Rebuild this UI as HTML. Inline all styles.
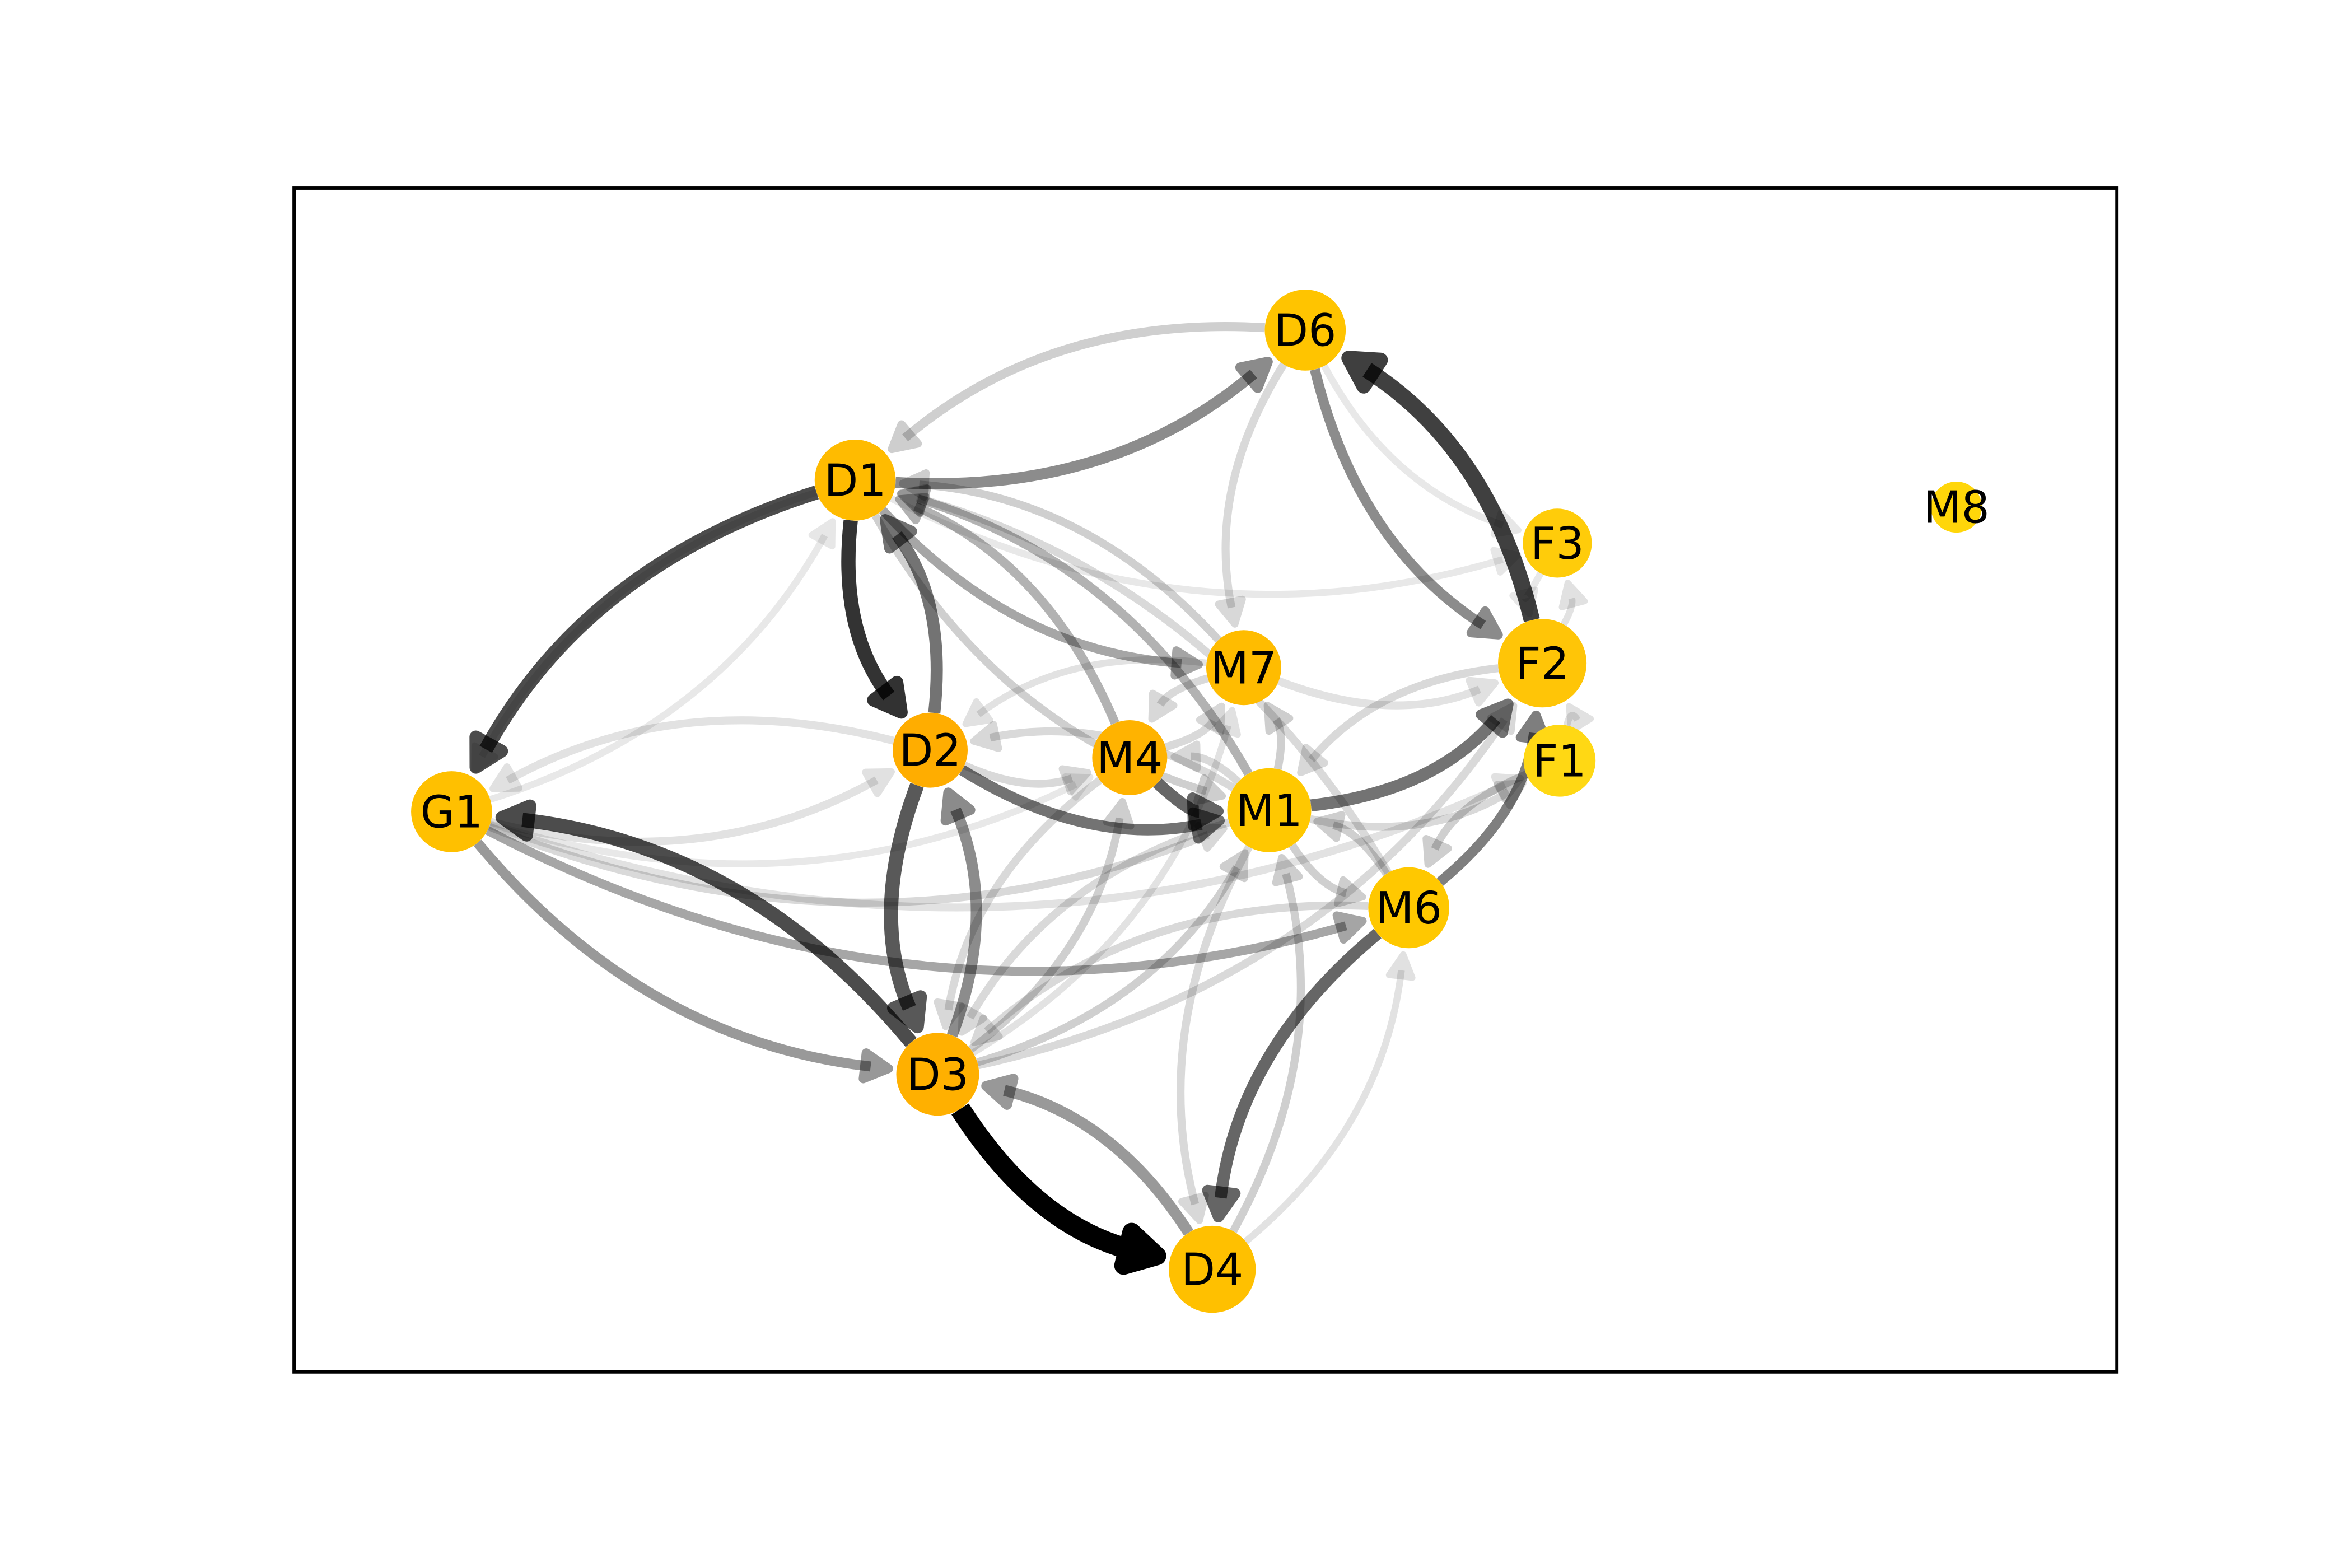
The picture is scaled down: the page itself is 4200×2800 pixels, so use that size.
<!DOCTYPE html>
<html><head><meta charset="utf-8"><style>
html,body{margin:0;padding:0;background:#fff;}
svg{display:block;}
</style></head><body>
<svg id="chart" width="4200" height="2800" viewBox="0 0 1567.7 1045.1" xmlns="http://www.w3.org/2000/svg">
<rect x="196" y="125.4" width="1215" height="789" fill="none" stroke="#000" stroke-width="2.2"/>
<g id="edges"></g>
<g id="nodes"></g>
</svg>
<script>
const nodeNames=["D6","D1","F3","M8","F2","M7","D2","M4","F1","G1","M1","M6","D3","D4"];
const nodeX=[870,570,1038,1304,1028,829,620,753,1039.5,301,846,939,625,808];
const nodeY=[220,320,362,338,442,445,500,505,507,541,540,605,716,846];
const nodeR=[27,27,23,17,29.5,25,25,25,24,27,28,27,27.6,29];
const nodeColor=["#ffc400","#ffbb00","#ffcc0a","#ffd60a","#ffc507","#ffbc00","#ffad00","#ffb300","#ffd814","#ffc000","#ffc800","#ffc800","#ffb000","#ffc000"];
const edgeFrom=["D3","F2","D1","D1","D3","D2","D3","D2","G1","D1","D6","D6","M6","D4","M1","M6","M4","D2","D1","D4","M1","G1","M7","M1","M6","F1","G1","G1","G1","M4","M1","D3","D3","D3","D1","M7","D6","F3","F2","M1","M1","M6","M7","M4","D2","G1","D1","F2","M1","D6","M6","M7","M1","D2","D3","F1","M4","M1","G1","D1","D4"];
const edgeTo=["D4","D6","G1","D2","G1","D3","D2","D1","D3","D6","D1","F2","D4","D3","F2","F2","M1","M1","M7","M1","D4","M6","D1","D1","D1","M6","F1","M1","D2","D1","M7","M1","M4","F2","G1","D2","M7","F2","F3","M6","F1","M1","M4","M7","M4","D1","M1","M1","D2","F3","D3","F2","D3","G1","M7","F2","D3","M4","M4","F3","M6"];
const edgeW=[8,6,5,5,5,5,3.5,4,3,3.5,2.5,3,4,3.5,4,3,4,3.5,2.5,2,2,2.5,2,2.5,2,2,2,2,2,2.5,2,2,2,2,1.5,1.5,2,1.5,1.5,2,2,2,2,2,2,1.5,2,2,2,1.5,2,2,2,2,1.5,1.5,2,2,1.5,1.5,1.5];
const edgeA=[1,0.75,0.7,0.8,0.7,0.65,0.45,0.55,0.4,0.45,0.25,0.45,0.6,0.4,0.55,0.5,0.6,0.55,0.35,0.25,0.2,0.35,0.25,0.3,0.2,0.25,0.15,0.2,0.15,0.3,0.25,0.25,0.25,0.2,0.12,0.15,0.2,0.12,0.15,0.25,0.2,0.25,0.2,0.2,0.2,0.12,0.25,0.2,0.2,0.12,0.2,0.15,0.2,0.15,0.15,0.15,0.2,0.2,0.12,0.12,0.15];
const NS="http://www.w3.org/2000/svg";
const idx=n=>nodeNames.indexOf(n);
const eg=document.getElementById("edges");
for(let i=0;i<edgeFrom.length;i++){
  const a=idx(edgeFrom[i]),b=idx(edgeTo[i]);
  const x1=nodeX[a],y1=nodeY[a],x2=nodeX[b],y2=nodeY[b];
  const dx=x2-x1,dy=y2-y1,rad=0.2;
  const cx=(x1+x2)/2-rad*dy,cy=(y1+y2)/2+rad*dx;
  let ux=cx-x1,uy=cy-y1,l=Math.hypot(ux,uy);
  const sx=x1+ux/l*nodeR[a],sy=y1+uy/l*nodeR[a];
  let vx=x2-cx,vy=y2-cy;l=Math.hypot(vx,vy);vx/=l;vy/=l;
  const w=2.5+edgeW[i]*1.4;
  const al=edgeA[i]<=0.25?edgeA[i]*0.75:edgeA[i];
  const ex=x2-vx*(nodeR[b]+2+w/2),ey=y2-vy*(nodeR[b]+2+w/2);
  const hl=12+w*0.6,hw=6+w*0.4;
  const bx=ex-vx*hl,by=ey-vy*hl;
  const g=document.createElementNS(NS,"g");
  
  
  const p=document.createElementNS(NS,"path");
  p.setAttribute("d",`M${sx},${sy} Q${cx},${cy} ${bx+vx*4},${by+vy*4}`);
  p.setAttribute("fill","none");p.setAttribute("stroke","#000");
  p.setAttribute("stroke-opacity",al);
  p.setAttribute("stroke-width",w);
  g.appendChild(p);
  const h=document.createElementNS(NS,"polygon");
  h.setAttribute("points",`${ex},${ey} ${bx-vy*hw},${by+vx*hw} ${bx+vy*hw},${by-vx*hw}`);
  h.setAttribute("fill","#000");h.setAttribute("stroke","#000");
  h.setAttribute("opacity",al);
  h.setAttribute("stroke-width",w*0.9);h.setAttribute("stroke-linejoin","round");
  g.appendChild(h);
  eg.appendChild(g);
}
const ng=document.getElementById("nodes");
for(let i=0;i<nodeNames.length;i++){
  const c=document.createElementNS(NS,"circle");
  
  
  c.setAttribute("cx",nodeX[i]);c.setAttribute("cy",nodeY[i]);c.setAttribute("r",nodeR[i]);
  c.setAttribute("fill",nodeColor[i]);
  ng.appendChild(c);
  const t=document.createElementNS(NS,"text");
  
  
  t.setAttribute("x",nodeX[i]);t.setAttribute("y",nodeY[i]+10.5);
  t.setAttribute("text-anchor","middle");t.setAttribute("font-size","29.5");
  t.setAttribute("font-family","DejaVu Sans, Liberation Sans, sans-serif");
  t.textContent=nodeNames[i];
  ng.appendChild(t);
}
</script>
</body></html>
